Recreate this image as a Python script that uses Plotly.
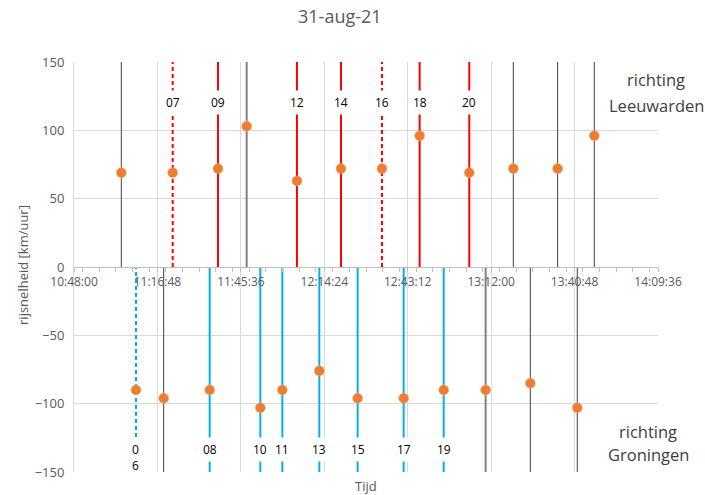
import plotly.graph_objects as go

DATE = "2021-08-31"

# Richting Leeuwarden
top_times = ["11:04:20", "11:22:04", "11:37:42", "11:47:36", "12:04:58", "12:20:10",
             "12:34:19", "12:47:19", "13:04:27", "13:19:39", "13:34:57", "13:47:36"]
top_speeds = [69, 69, 72, 103, 63, 72, 72, 96, 69, 72, 72, 96]
top_labels = ["", "07", "09", "", "12", "14", "16", "18", "20", "", "", ""]
top_kinds = ["other", "train_dash", "train", "other2", "train", "train",
             "train_dash", "train", "train", "other", "other", "other"]

# Richting Groningen
bot_times = ["11:09:24", "11:18:57", "11:34:50", "11:52:19", "11:59:55", "12:12:41",
             "12:25:55", "12:41:48", "12:55:37", "13:10:06", "13:25:31", "13:41:44"]
bot_speeds = [-90, -96, -90, -103, -90, -76, -96, -96, -90, -90, -85, -103]
bot_labels = ["0\n6", "", "08", "10", "11", "13", "15", "17", "19", "", "", ""]
bot_kinds = ["train_dash", "other", "train", "train", "train", "train",
             "train", "train", "train", "other2", "other", "other"]

x_ticks = ["10:48:00", "11:16:48", "11:45:36", "12:14:24", "12:43:12",
           "13:12:00", "13:40:48", "14:09:36"]
y_ticks = [-150, -100, -50, 0, 50, 100, 150]

def ts(t):
    return f"{DATE} {t}"

Y_MIN, Y_MAX = y_ticks[0], y_ticks[-1]
FONT = "Open Sans"

fig = go.Figure()

def style_for(kind, top):
    train_col = "#FF0000" if top else "#00B0F0"
    return {
        "other": dict(color="#404040", width=1, dash="solid"),
        "other2": dict(color="#808080", width=2, dash="solid"),
        "train": dict(color=train_col, width=2, dash="solid"),
        "train_dash": dict(color=train_col, width=2, dash="4px,3px"),
    }[kind]

for times, kinds, top in [(top_times, top_kinds, True), (bot_times, bot_kinds, False)]:
    y0, y1 = (0, Y_MAX) if top else (Y_MIN, 0)
    for kind in ["other", "other2", "train", "train_dash"]:
        xs, ys = [], []
        for t, k in zip(times, kinds):
            if k == kind:
                xs += [ts(t), ts(t), None]
                ys += [y0, y1, None]
        if xs:
            fig.add_trace(go.Scatter(x=xs, y=ys, mode="lines", line=style_for(kind, top),
                                     hoverinfo="skip", showlegend=False))

fig.add_trace(go.Scatter(x=[ts(t) for t in top_times] + [ts(t) for t in bot_times],
                         y=top_speeds + bot_speeds, mode="markers",
                         marker=dict(size=10, color="#ED7D31", line=dict(width=0.5, color="#F4B183")),
                         showlegend=False))

annotations = []
for t, lab in zip(top_times, top_labels):
    if lab:
        annotations.append(dict(x=ts(t), y=129.5, xref="x", yref="y", text=lab.replace("\n", "<br>"),
                                showarrow=False, yanchor="top", bgcolor="white", borderpad=3,
                                font=dict(size=12, color="#000000", family=FONT)))
for t, lab in zip(bot_times, bot_labels):
    if lab:
        annotations.append(dict(x=ts(t), y=-124.5, xref="x", yref="y", text=lab.replace("\n", "<br>"),
                                showarrow=False, yanchor="top", bgcolor="white", borderpad=3,
                                font=dict(size=12, color="#000000", family=FONT)))

def side_text(text, x, y):
    return dict(text=text, xref="paper", yref="paper", x=x, y=y,
                showarrow=False, xanchor="center", yanchor="middle",
                font=dict(size=16.5, color="#404040", family=FONT))

annotations += [
    side_text("richting", 0.9966, 0.9561),
    side_text("Leeuwarden", 0.9966, 0.8951),
    side_text("richting", 0.983, 0.0976),
    side_text("Groningen", 0.983, 0.0415),
    dict(text="Tijd", xref="paper", yref="paper", x=0.5, y=-0.034,
         showarrow=False, xanchor="center", yanchor="middle",
         font=dict(size=13, color="#595959", family=FONT)),
    dict(text="rijsnelheid [km/uur]", xref="paper", yref="paper", x=-0.0873, y=0.505,
         showarrow=False, xanchor="center", yanchor="middle", textangle=-90,
         font=dict(size=13, color="#595959", family=FONT)),
]

fig.update_layout(
    width=705, height=495,
    margin=dict(l=74, r=47, t=62, b=23, autoexpand=False),
    paper_bgcolor="white", plot_bgcolor="white",
    title=dict(text="31-aug-21", x=0.482, xanchor="center", y=0.966, yanchor="middle",
               font=dict(size=18, color="#595959", family=FONT)),
    font=dict(family=FONT, color="#595959"),
    annotations=annotations,
    xaxis=dict(
        type="date", automargin=False,
        range=[ts(x_ticks[0]), ts(x_ticks[-1])],
        tickmode="array", tickvals=[ts(t) for t in x_ticks], ticktext=x_ticks,
        anchor="free", position=0.5,
        showgrid=True, gridcolor="#D9D9D9", gridwidth=1,
        showline=True, linecolor="#BFBFBF", linewidth=1,
        ticks="outside", ticklen=4, tickcolor="#BFBFBF",
        minor=dict(dtick=345600, ticks="outside", ticklen=4, tickcolor="#BFBFBF", showgrid=False),
        tickfont=dict(size=12, color="#595959"),
        zeroline=False,
    ),
    yaxis=dict(
        automargin=False,
        range=[Y_MIN, Y_MAX], tickmode="array", tickvals=y_ticks,
        showgrid=True, gridcolor="#D9D9D9", gridwidth=1,
        showline=True, linecolor="#D9D9D9",
        zeroline=False, ticks="", tickfont=dict(size=13, color="#595959"),
        ticklabelstandoff=6,
    ),
)

fig.write_html("out.html", config={"displayModeBar": False},
               post_script="document.body.style.margin='0';")
